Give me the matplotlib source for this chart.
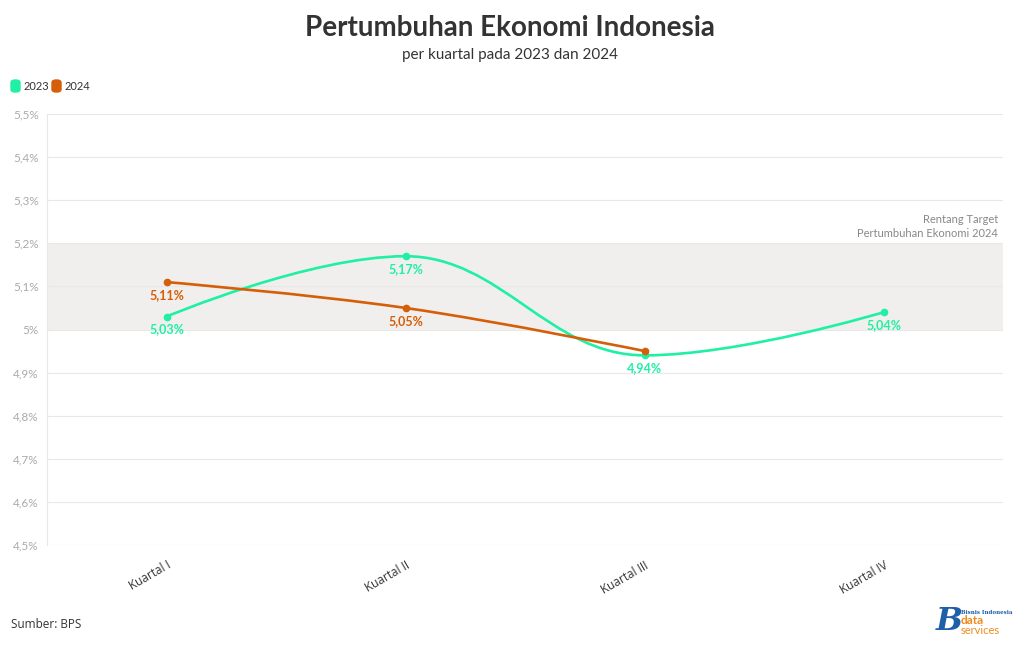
import numpy as np
import matplotlib
matplotlib.use("Agg")
import matplotlib.pyplot as plt
from matplotlib.path import Path
from matplotlib.patches import PathPatch, FancyBboxPatch

plt.rcParams['font.family'] = ['Lato', 'DejaVu Sans']

# data
categories = ["Kuartal I", "Kuartal II", "Kuartal III", "Kuartal IV"]
series_names = ["2023", "2024"]
values_2023 = [5.03, 5.17, 4.94, 5.04]
values_2024 = [5.11, 5.05, 4.95]
show_label_2024 = [True, True, False]
target_band = (5.0, 5.2)
y_ticks = [4.5, 4.6, 4.7, 4.8, 4.9, 5.0, 5.1, 5.2, 5.3, 5.4, 5.5]

col_2023 = "#1ff0a3"
col_2024 = "#d55e08"


def fmt_pct(v):
    s = ("%.2f" % v).rstrip("0").rstrip(".")
    return s.replace(".", ",") + "%"


# Highcharts-like spline: bezier segments with smoothing 1.5
def spline_path(ax, xs, ys):
    pts = ax.transData.transform(np.column_stack([xs, ys]))
    n = len(pts)
    smooth = 1.5
    denom = smooth + 1
    left = [None] * n
    right = [None] * n
    for i in range(n):
        px, py = pts[i]
        if i == 0 or i == n - 1:
            left[i] = (px, py)
            right[i] = (px, py)
            continue
        lx, ly = pts[i - 1]
        nx, ny = pts[i + 1]
        lcx = (smooth * px + lx) / denom
        lcy = (smooth * py + ly) / denom
        rcx = (smooth * px + nx) / denom
        rcy = (smooth * py + ny) / denom
        if rcx != lcx:
            corr = (rcy - lcy) * (rcx - px) / (rcx - lcx) + py - rcy
            lcy += corr
            rcy += corr
        if lcy > ly and lcy > py:
            lcy = max(ly, py)
            rcy = 2 * py - lcy
        elif lcy < ly and lcy < py:
            lcy = min(ly, py)
            rcy = 2 * py - lcy
        if rcy > ny and rcy > py:
            rcy = max(ny, py)
            lcy = 2 * py - rcy
        elif rcy < ny and rcy < py:
            rcy = min(ny, py)
            lcy = 2 * py - rcy
        left[i] = (lcx, lcy)
        right[i] = (rcx, rcy)
    verts = [tuple(pts[0])]
    codes = [Path.MOVETO]
    for i in range(1, n):
        verts += [right[i - 1], left[i], tuple(pts[i])]
        codes += [Path.CURVE4] * 3
    inv = ax.transData.inverted()
    verts = inv.transform(np.array(verts))
    return Path(verts, codes)


fig = plt.figure(figsize=(10.2, 6.5), dpi=100)
ax = fig.add_axes([47 / 1020, 1 - 545 / 650, 956 / 1020, 431 / 650])

ax.set_xlim(-0.5, len(categories) - 0.5)
ax.set_ylim(4.5, 5.5)

ax.axhspan(target_band[0], target_band[1], color="#f0efed", zorder=0, lw=0)
for y in y_ticks:
    ax.axhline(y, color="#e8e8e8", lw=0.8, zorder=0.5)

ax.set_yticks(y_ticks)
ax.set_yticklabels([fmt_pct(v) for v in y_ticks], color="#aaaaaa", fontsize=8.5)
ax.set_xticks(range(len(categories)))
ax.set_xticklabels(categories, rotation=30, ha="right", rotation_mode="anchor",
                   fontsize=8.5, color="#333333", family=["Open Sans", "DejaVu Sans"])
ax.tick_params(axis="both", length=0, pad=6)
ax.tick_params(axis="x", pad=10)
for s in ["top", "right", "bottom"]:
    ax.spines[s].set_visible(False)
ax.spines["left"].set_color("#e8e8e8")
ax.spines["left"].set_linewidth(0.8)

fig.canvas.draw()

for vals, col, flags in [(values_2023, col_2023, [True] * 4),
                         (values_2024, col_2024, show_label_2024)]:
    xs = np.arange(len(vals))
    path = spline_path(ax, xs, vals)
    ax.add_patch(PathPatch(path, fill=False, edgecolor=col, lw=1.9, zorder=3,
                           capstyle="round", joinstyle="round"))
    ax.plot(xs, vals, "o", color=col, ms=4.5, zorder=4)
    for x, v, f in zip(xs, vals, flags):
        if f:
            ax.annotate(fmt_pct(v), (x, v), xytext=(0, -5), textcoords="offset points",
                        ha="center", va="top", fontsize=9, fontweight="bold",
                        color=col, zorder=5)

ax.text(0.995, 5.255, "Rentang Target", ha="right", va="center",
        transform=ax.get_yaxis_transform(), fontsize=8, color="#888888")
ax.text(0.995, 5.222, "Pertumbuhan Ekonomi 2024", ha="right", va="center",
        transform=ax.get_yaxis_transform(), fontsize=8, color="#888888")

# titles
fig.text(0.5, 1 - 28 / 650, "Pertumbuhan Ekonomi Indonesia", ha="center", va="center",
         fontsize=20, fontweight="bold", color="#333333")
fig.text(0.5, 1 - 55 / 650, "per kuartal pada 2023 dan 2024", ha="center", va="center",
         fontsize=11, color="#333333")

# legend
for i, (name, col) in enumerate(zip(series_names, [col_2023, col_2024])):
    x0 = 11 + i * 41
    fig.patches.append(FancyBboxPatch((x0 / 1020, 1 - 92 / 650), 9 / 1020, 12 / 650,
                                      boxstyle="round,pad=0,rounding_size=0.004",
                                      transform=fig.transFigure, color=col))
    fig.text((x0 + 13) / 1020, 1 - 86 / 650, name, ha="left", va="center",
             fontsize=8, color="#333333")

fig.text(11 / 1020, 1 - 625 / 650, "Sumber: BPS", ha="left", va="center",
         fontsize=8.5, color="#333333", family=["Open Sans", "DejaVu Sans"])

# logo
fig.text(949 / 1020, 1 - 622 / 650, "B", ha="center", va="center", fontsize=23,
         fontweight="bold", color="#1f5fa8", family=["DejaVu Serif"], style="italic")
fig.text(961 / 1020, 1 - 612 / 650, "Bisnis Indonesia", ha="left", va="center",
         fontsize=4, fontweight="bold", color="#1f5fa8", family=["DejaVu Serif"])
fig.text(961 / 1020, 1 - 621 / 650, "data", ha="left", va="center",
         fontsize=8.5, fontweight="bold", color="#f08a1c")
fig.text(961 / 1020, 1 - 631 / 650, "services", ha="left", va="center",
         fontsize=8, color="#f08a1c")

fig.savefig("out.png", dpi=100)
